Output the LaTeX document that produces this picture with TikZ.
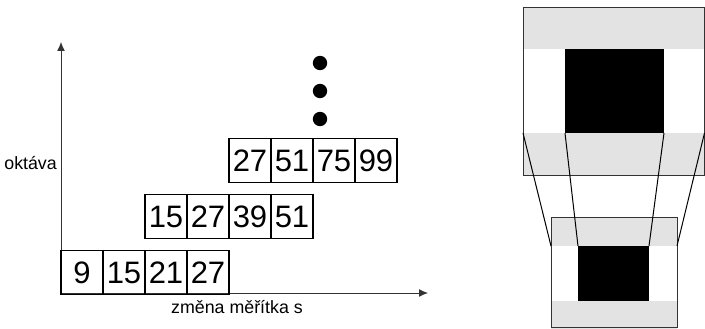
\documentclass[tikz,border=0pt]{standalone}
\usepackage{fontspec}
\setmainfont{Liberation Sans}
\usepackage{xcolor}
\usetikzlibrary{arrows.meta}

\definecolor{bandgray}{HTML}{E3E3E3}
\definecolor{axisgray}{HTML}{333333}

\begin{document}
\begin{tikzpicture}[x=1pt, y=-1pt,
    cell/.style={draw, line width=1.6pt, minimum width=42pt, minimum height=44pt,
        inner sep=0pt, font=\fontsize{31}{31}\selectfont},
    axis/.style={draw=axisgray, line width=1pt, -{Latex[length=9pt, width=8pt]}},
    lbl/.style={font=\fontsize{17.8}{17.8}\selectfont, inner sep=0pt},
    frame/.style={draw=axisgray, line width=0.9pt},
    proj/.style={draw=black, line width=1pt}]
    \clip (0,0) rectangle (705,329);

    % Axes
    \coordinate (origin) at (61,293);
    \coordinate (ytip) at (61,42);
    \coordinate (xtip) at (428,293);
    \draw[axis] (origin) -- (ytip);
    \draw[axis] (origin) -- (xtip);
    \node[lbl, anchor=east] (oktava) at (57,163) {oktáva};
    \node[lbl] (zmena) at (237,307) {změna měřítka s};

    % Octaves (rows of scales)
    \foreach \vals [count=\r] in {{9,15,21,27},{15,27,39,51},{27,51,75,99}} {
        \foreach \v [count=\c] in \vals {
            \node[cell] (r\r c\c) at ({61+84*(\r-1)+42*(\c-1)+21}, {272.5-56*(\r-1)}) {\v};
        }
    }

    % Dots
    \foreach \y [count=\i] in {63,91,119}
        \fill (320,\y) circle (7.2pt) coordinate (dot\i);

    % Big filter
    \fill[bandgray] (523,7) rectangle (705,49);
    \fill[bandgray] (523,133) rectangle (705,175);
    \fill[black] (565,49) rectangle (664,133);
    \draw[frame] (523,7) rectangle (704.5,175);

    % Small filter
    \fill[bandgray] (551,217) rectangle (677,246);
    \fill[bandgray] (551,301) rectangle (677,329);
    \fill[black] (578,246) rectangle (649,301);
    \draw[frame] (551,217) rectangle (677,327.8);

    % Projection lines
    \coordinate (b1) at (523,133);
    \coordinate (b2) at (565,133);
    \coordinate (b3) at (664,133);
    \coordinate (b4) at (704.5,133);
    \coordinate (s1) at (551,246);
    \coordinate (s2) at (578,246);
    \coordinate (s3) at (649,246);
    \coordinate (s4) at (677,246);
    \foreach \i in {1,...,4}
        \draw[proj] (b\i) -- (s\i);

\end{tikzpicture}
\end{document}
